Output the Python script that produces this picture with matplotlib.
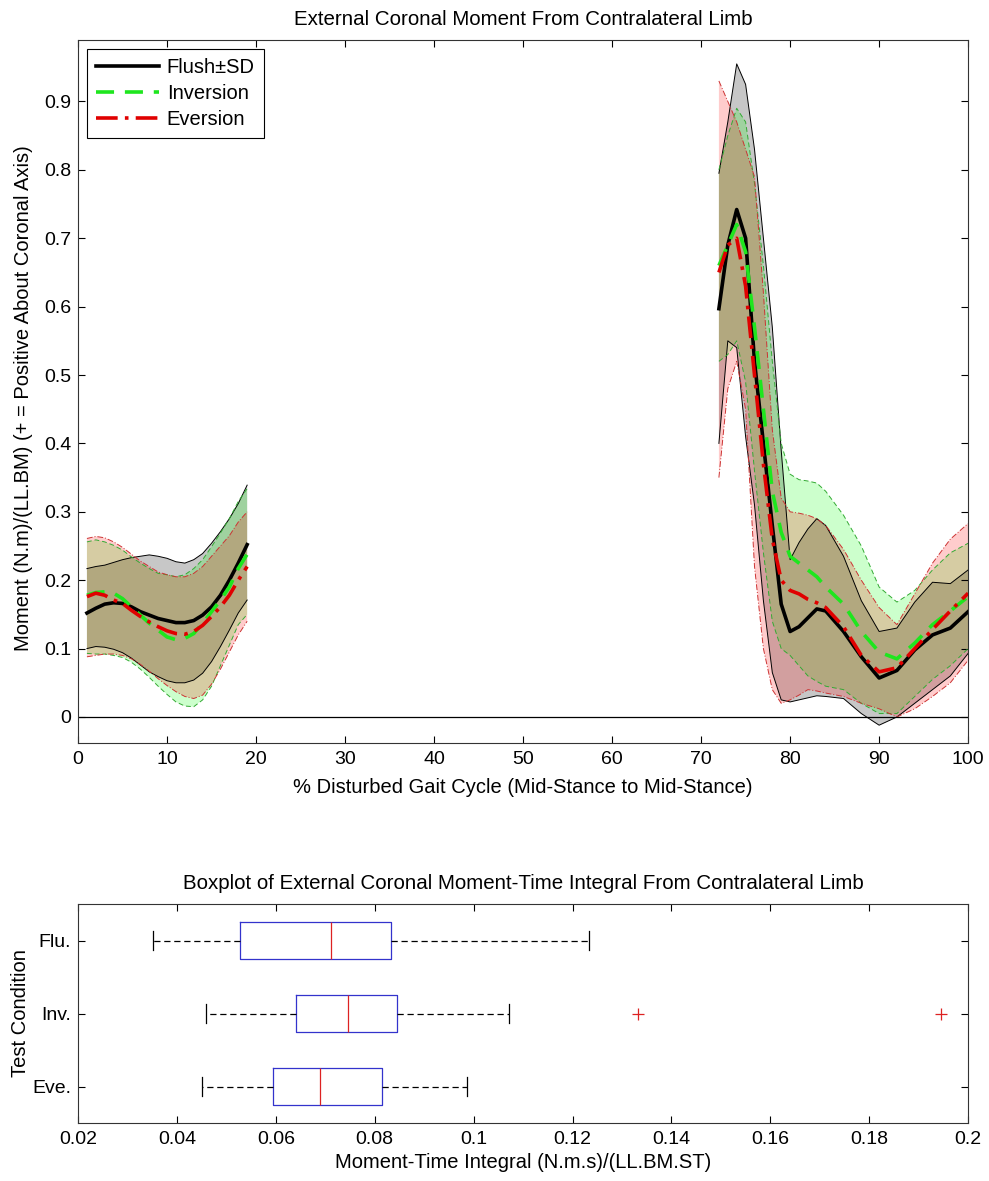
import matplotlib
matplotlib.use("Agg")
import matplotlib.pyplot as plt

plt.rcParams["font.family"] = ["Liberation Sans", "DejaVu Sans"]
plt.rcParams["font.size"] = 14

# ---------------------------------------------------------------------------
# Data
# ---------------------------------------------------------------------------
x_left = list(range(1, 20))
x_right = [72, 73, 74, 75, 76, 77, 78, 79, 80, 81, 82, 83, 84, 86, 88, 90, 92, 94, 96, 98, 100]

flush_mean_l = [.152, .159, .165, .167, .166, .161, .154, .149, .144, .141, .138, .138,
                .141, .149, .161, .178, .200, .225, .252]
flush_hi_l = [.217, .220, .222, .226, .230, .233, .235, .237, .235, .232, .227, .225,
              .230, .239, .254, .271, .290, .312, .339]
flush_lo_l = [.100, .103, .102, .099, .094, .086, .076, .066, .059, .053, .050, .050,
              .054, .064, .081, .103, .127, .152, .171]

inv_mean_l = [.178, .182, .183, .181, .173, .161, .149, .137, .127, .117, .113, .115,
              .122, .137, .154, .171, .190, .217, .238]
inv_hi_l = [.256, .259, .256, .251, .244, .234, .225, .217, .210, .208, .205, .208,
            .217, .230, .249, .269, .290, .315, .334]
inv_lo_l = [.093, .092, .092, .090, .087, .080, .070, .058, .045, .033, .022, .016,
            .015, .025, .045, .075, .105, .135, .150]

eve_mean_l = [.176, .181, .178, .171, .166, .156, .147, .139, .132, .126, .122, .121,
              .125, .134, .147, .161, .178, .200, .220]
eve_hi_l = [.261, .264, .262, .256, .248, .238, .228, .220, .212, .208, .205, .205,
            .210, .220, .235, .250, .265, .285, .300]
eve_lo_l = [.088, .090, .092, .092, .090, .085, .077, .067, .056, .046, .037, .030,
            .027, .032, .048, .070, .095, .120, .140]

flush_mean_r = [.597, .690, .742, .700, .520, .400, .280, .165, .125, .132, .145, .158,
                .155, .125, .088, .057, .068, .098, .120, .130, .154]
flush_hi_r = [.795, .870, .955, .925, .830, .700, .570, .390, .230, .255, .275, .290,
              .280, .235, .170, .125, .130, .168, .197, .195, .215]
flush_lo_r = [.400, .550, .540, .410, .310, .170, .065, .025, .022, .025, .028, .031,
              .030, .027, .005, -.012, .000, .020, .040, .060, .093]

inv_mean_r = [.660, .690, .720, .680, .570, .450, .330, .270, .235, .225, .215, .205,
              .190, .165, .125, .095, .085, .108, .135, .155, .176]
inv_hi_r = [.800, .850, .890, .870, .780, .660, .520, .400, .355, .347, .345, .342,
            .330, .295, .250, .190, .168, .185, .215, .240, .254]
inv_lo_r = [.520, .530, .550, .490, .360, .240, .140, .100, .090, .075, .060, .052,
            .045, .040, .020, .005, .005, .030, .055, .075, .100]

eve_mean_r = [.650, .690, .700, .630, .500, .370, .260, .200, .185, .180, .172, .167,
              .160, .132, .090, .066, .072, .100, .128, .155, .181]
eve_hi_r = [.930, .900, .870, .830, .790, .620, .420, .320, .300, .298, .295, .290,
            .280, .245, .200, .160, .135, .180, .225, .260, .283]
eve_lo_r = [.350, .480, .520, .450, .220, .100, .040, .020, .025, .032, .040, .038,
            .035, .030, .020, .012, .000, .012, .030, .050, .083]

series_labels = ["Flush\u00b1SD", "Inversion", "Eversion"]

# boxplot of moment-time integral
box_labels = ["Flu.", "Inv.", "Eve."]
box_whislo = [0.0352, 0.0459, 0.0451]
box_q1 = [0.0527, 0.0640, 0.0594]
box_med = [0.0711, 0.0746, 0.0690]
box_q3 = [0.0833, 0.0846, 0.0814]
box_whishi = [0.1233, 0.1071, 0.0987]
box_fliers = [[], [0.1333, 0.1945], []]

# ---------------------------------------------------------------------------
# Figure
# ---------------------------------------------------------------------------
fig = plt.figure(figsize=(9.89, 11.81), dpi=100, facecolor="white")
ax = fig.add_axes([0.0789, 0.3709, 0.900, 0.5953])
ax2 = fig.add_axes([0.0789, 0.0491, 0.900, 0.1854])

styles = [
    dict(color="black", fill=(0, 0, 0), alpha=0.22, ls="-", edge="black"),
    dict(color="#1ee61e", fill=(0, 1, 0), alpha=0.20, ls=(0, (5, 3)), edge="#33aa33"),
    dict(color="#e00000", fill=(1, 0, 0), alpha=0.20, ls=(0, (6, 2, 1, 2)), edge="#cc3333"),
]
segments = [
    [(x_left, flush_mean_l, flush_lo_l, flush_hi_l), (x_right, flush_mean_r, flush_lo_r, flush_hi_r)],
    [(x_left, inv_mean_l, inv_lo_l, inv_hi_l), (x_right, inv_mean_r, inv_lo_r, inv_hi_r)],
    [(x_left, eve_mean_l, eve_lo_l, eve_hi_l), (x_right, eve_mean_r, eve_lo_r, eve_hi_r)],
]

# bands first
for st, segs in zip(styles, segments):
    for xs, m, lo, hi in segs:
        ax.fill_between(xs, lo, hi, facecolor=st["fill"], alpha=st["alpha"], lw=0)
        ax.plot(xs, lo, color=st["edge"], lw=0.7, ls=st["ls"])
        ax.plot(xs, hi, color=st["edge"], lw=0.7, ls=st["ls"])

handles = []
for st, segs, lab in zip(styles, segments, series_labels):
    for i, (xs, m, lo, hi) in enumerate(segs):
        h, = ax.plot(xs, m, color=st["color"], lw=2.6, ls=st["ls"],
                     label=lab if i == 0 else None)
        if i == 0:
            handles.append(h)

ax.axhline(0, color="black", lw=0.9)
ax.set_xlim(0, 100)
ax.set_ylim(-0.038, 0.99)
ax.set_xticks(range(0, 101, 10))
ax.set_yticks([i / 10 for i in range(10)])
ax.set_yticklabels(["0"] + [f"{i / 10:g}" for i in range(1, 10)])
ax.set_title("External Coronal Moment From Contralateral Limb", fontsize=14.8, pad=11)
ax.set_xlabel("% Disturbed Gait Cycle (Mid-Stance to Mid-Stance)", fontsize=14.5)
ax.set_ylabel("Moment (N.m)/(LL.BM) (+ = Positive About Coronal Axis)", fontsize=14.5)
ax.xaxis.set_label_coords(0.5, -0.05)
ax.yaxis.set_label_coords(-0.051, 0.49)

leg = ax.legend(handles=handles, loc="upper left", fontsize=14.5, handlelength=3.1,
                handletextpad=0.4, fancybox=False, edgecolor="black", framealpha=1,
                borderaxespad=0.45, labelspacing=0.35, borderpad=0.45)
leg.get_frame().set_linewidth(0.8)

# ---------------------------------------------------------------------------
# Boxplot
# ---------------------------------------------------------------------------
stats = []
for lab, wl, q1, md, q3, wh, fl in zip(box_labels, box_whislo, box_q1, box_med,
                                       box_q3, box_whishi, box_fliers):
    stats.append(dict(label=lab, whislo=wl, q1=q1, med=md, q3=q3, whishi=wh, fliers=fl))

ax2.bxp(stats, positions=[1, 2, 3], widths=0.5, capwidths=0.25,
        orientation="horizontal", showfliers=True,
        boxprops=dict(color="#3333cc", lw=0.9),
        medianprops=dict(color="#dd2222", lw=0.9),
        whiskerprops=dict(color="black", lw=0.9, ls=(0, (5, 3))),
        capprops=dict(color="black", lw=0.9),
        flierprops=dict(marker="+", markeredgecolor="#dd2222", markersize=9, mew=0.9))
ax2.set_ylim(3.5, 0.5)
ax2.set_xlim(0.02, 0.2)
ax2.set_xticks([0.02 * i for i in range(1, 11)])
ax2.set_xticklabels([f"{0.02 * i:g}" for i in range(1, 11)])
ax2.set_yticks([1, 2, 3])
ax2.set_yticklabels(box_labels)
ax2.set_title("Boxplot of External Coronal Moment-Time Integral From Contralateral Limb",
              fontsize=14.8, pad=11)
ax2.set_xlabel("Moment-Time Integral (N.m.s)/(LL.BM.ST)", fontsize=14.5)
ax2.set_ylabel("Test Condition", fontsize=14.5)
ax2.xaxis.set_label_coords(0.5, -0.135)
ax2.yaxis.set_label_coords(-0.054, 0.5)

for a in (ax, ax2):
    a.tick_params(direction="in", top=True, right=True, length=5, width=0.8,
                  labelsize=14)
    a.tick_params(axis="x", pad=6)
    a.tick_params(axis="y", pad=5)
    for sp in a.spines.values():
        sp.set_linewidth(0.8)
        sp.set_color("#333333")

fig.savefig("out.png", dpi=100, facecolor="white")
